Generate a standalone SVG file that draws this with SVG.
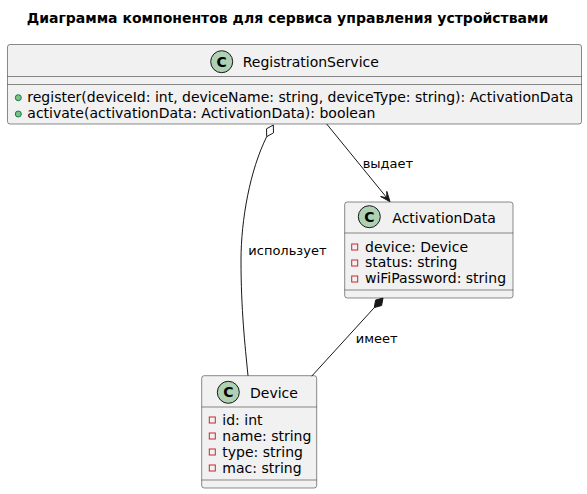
<svg xmlns="http://www.w3.org/2000/svg" width="587" height="494" viewBox="0 0 587 494">
<style>
text{font-family:"DejaVu Sans","Liberation Sans",sans-serif;fill:#000000}
.title{font-size:14px;font-weight:bold}
.name{font-size:14px}
.member{font-size:14px}
.lbl{font-size:13px}
.box{fill:#F1F1F1;stroke:#181818;stroke-width:0.5}
.sep{stroke:#181818;stroke-width:0.5}
.spot{fill:#ADD1B2;stroke:#181818;stroke-width:1}
.spotC{font-size:14px;font-weight:bold;text-anchor:middle}
.pub{fill:#84BE84;stroke:#038048;stroke-width:1}
.priv{fill:none;stroke:#C82930;stroke-width:1}
.link{fill:none;stroke:#181818;stroke-width:1}
</style>
<rect width="587" height="494" fill="#FFFFFF"/>
<text class="title" x="287.5" y="23" text-anchor="middle">Диаграмма компонентов для сервиса управления устройствами</text>

<g id="RegistrationService">
<rect class="box" x="7.5" y="44.5" width="574" height="79.5" rx="2.5"/>
<circle class="spot" cx="221.7" cy="61.7" r="11"/>
<text class="spotC" x="221.7" y="66.7">C</text>
<text class="name" x="242.7" y="66.5">RegistrationService</text>
<line class="sep" x1="7.5" y1="76.5" x2="581.5" y2="76.5"/>
<line class="sep" x1="7.5" y1="84.5" x2="581.5" y2="84.5"/>
<circle class="pub" cx="18.3" cy="97.7" r="3"/>
<text class="member" x="27.3" y="102">register(deviceId: int, deviceName: string, deviceType: string): ActivationData</text>
<circle class="pub" cx="18.3" cy="114" r="3"/>
<text class="member" x="27.3" y="118">activate(activationData: ActivationData): boolean</text>
</g>

<g id="ActivationData">
<rect class="box" x="344.7" y="202" width="168.3" height="96" rx="2.5"/>
<circle class="spot" cx="369.3" cy="216.7" r="11"/>
<text class="spotC" x="369.3" y="221.7">C</text>
<text class="name" x="392.3" y="223">ActivationData</text>
<line class="sep" x1="344.7" y1="233" x2="513" y2="233"/>
<rect class="priv" x="351.7" y="244" width="6" height="6"/>
<text class="member" x="365" y="251.5">device: Device</text>
<rect class="priv" x="351.7" y="260" width="6" height="6"/>
<text class="member" x="365" y="267">status: string</text>
<rect class="priv" x="351.7" y="276" width="6" height="6"/>
<text class="member" x="365" y="283">wiFiPassword: string</text>
<line class="sep" x1="344.7" y1="290" x2="513" y2="290"/>
</g>

<g id="Device">
<rect class="box" x="201.7" y="375.7" width="115" height="112.3" rx="2.5"/>
<circle class="spot" cx="228.3" cy="392.3" r="11"/>
<text class="spotC" x="228.3" y="397.3">C</text>
<text class="name" x="250" y="397.5">Device</text>
<line class="sep" x1="201.7" y1="407" x2="316.7" y2="407"/>
<rect class="priv" x="209.3" y="417" width="6" height="6"/>
<text class="member" x="222.3" y="424.5">id: int</text>
<rect class="priv" x="209.3" y="433" width="6" height="6"/>
<text class="member" x="222.3" y="440.5">name: string</text>
<rect class="priv" x="209.3" y="449" width="6" height="6"/>
<text class="member" x="222.3" y="456.5">type: string</text>
<rect class="priv" x="209.3" y="465" width="6" height="6"/>
<text class="member" x="222.3" y="472.5">mac: string</text>
<line class="sep" x1="201.7" y1="480" x2="316.7" y2="480"/>
</g>

<g id="connectors">
<path class="link" d="M266.7,136.7 C250,170 241,220 241,260 C241,310 245,345 248,375.7"/>
<polygon points="273.3,125 273.5,132.8 266.7,136.7 266.5,128.8" fill="#FFFFFF" stroke="#181818" stroke-width="1"/>
<text class="lbl" x="248.3" y="254.5">использует</text>

<line class="link" x1="326.7" y1="124" x2="387" y2="198"/>
<polygon points="390,201.7 386.8,191.4 386.8,197.8 380.6,196.5" fill="#181818" stroke="#181818" stroke-width="1"/>
<text class="lbl" x="362.7" y="167.5">выдает</text>

<line class="link" x1="374.3" y1="307.6" x2="311.7" y2="376.2"/>
<polygon points="383,298 381.6,305.5 374.3,307.6 375.6,300.1" fill="#181818" stroke="#181818" stroke-width="1"/>
<text class="lbl" x="355.7" y="342.5">имеет</text>
</g>
</svg>
